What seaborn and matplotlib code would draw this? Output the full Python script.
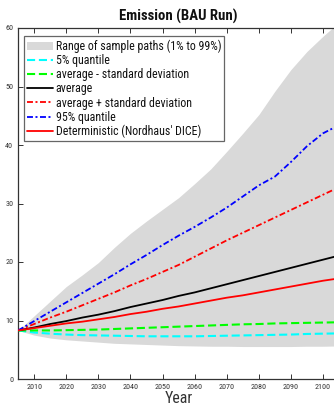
import numpy as np
import pandas as pd
import matplotlib
matplotlib.use("Agg")
import matplotlib.pyplot as plt
import seaborn as sns
from matplotlib.patches import Patch
from matplotlib.lines import Line2D

years = [2005, 2010, 2015, 2020, 2025, 2030, 2035, 2040, 2045, 2050, 2055,
         2060, 2065, 2070, 2075, 2080, 2085, 2090, 2095, 2100, 2105]
band_upper = [8.3, 10.8, 13.3, 15.8, 17.8, 19.9, 22.5, 24.9, 27.0, 29.0, 31.0,
              33.4, 35.9, 38.9, 42.0, 45.2, 49.2, 52.9, 56.0, 58.6, 61.0]
band_lower = [8.3, 7.5, 7.0, 6.7, 6.5, 6.3, 6.1, 6.0, 5.9, 5.8, 5.7,
              5.65, 5.6, 5.6, 5.55, 5.55, 5.55, 5.55, 5.6, 5.6, 5.65]
q05 = [8.3, 7.95, 7.75, 7.6, 7.5, 7.45, 7.4, 7.35, 7.3, 7.3, 7.3,
       7.3, 7.35, 7.4, 7.45, 7.5, 7.55, 7.6, 7.7, 7.75, 7.8]
avg_minus_sd = [8.3, 8.3, 8.3, 8.35, 8.4, 8.45, 8.55, 8.65, 8.75, 8.85, 8.95,
                9.05, 9.15, 9.25, 9.35, 9.4, 9.5, 9.55, 9.6, 9.65, 9.7]
average = [8.3, 8.8, 9.4, 9.9, 10.5, 11.0, 11.6, 12.3, 12.9, 13.5, 14.2,
           14.8, 15.5, 16.2, 16.9, 17.6, 18.3, 19.0, 19.7, 20.4, 21.1]
avg_plus_sd = [8.3, 9.4, 10.5, 11.5, 12.6, 13.7, 14.8, 16.0, 17.1, 18.3, 19.5,
               20.9, 22.3, 23.7, 25.0, 26.3, 27.6, 28.9, 30.2, 31.5, 32.8]
q95 = [8.3, 9.9, 11.5, 13.1, 14.7, 16.3, 17.9, 19.6, 21.2, 22.9, 24.5,
       26.0, 27.6, 29.3, 31.2, 33.1, 34.6, 37.1, 39.8, 42.0, 43.4]
deterministic = [8.3, 8.7, 9.1, 9.5, 9.8, 10.2, 10.6, 11.1, 11.5, 12.0, 12.4,
                 12.9, 13.4, 13.9, 14.3, 14.8, 15.3, 15.8, 16.3, 16.8, 17.2]

labels = ["Range of sample paths (1% to 99%)", "5% quantile",
          "average - standard deviation", "average",
          "average + standard deviation", "95% quantile",
          "Deterministic (Nordhaus' DICE)"]
title = "Emission (BAU Run)"
xlabel = "Year"
xticks = [2010, 2020, 2030, 2040, 2050, 2060, 2070, 2080, 2090, 2100]
yticks = [0, 10, 20, 30, 40, 50, 60]

sns.set_style("ticks")
FAM = ['Roboto Condensed', 'DejaVu Sans']
plt.rcParams['font.family'] = FAM

fig = plt.figure(figsize=(3.34, 4.07), dpi=100)
W, H = 334, 407
renderer = fig.canvas.get_renderer()


def fit_size(s, target_px, weight="normal", base=10.0):
    t = fig.text(0, 0, s, fontsize=base, fontweight=weight, family=FAM)
    w = t.get_window_extent(renderer).width
    t.remove()
    return base * target_px / w


leg_fs = fit_size(labels[0], 164)
title_fs = fit_size(title, 118, weight="bold")
tick_fs = fit_size("2050", 16)
xl_fs = fit_size(xlabel, 28)

ax = fig.add_axes([18.1 / W, 28 / H, 321 / W, 351 / H])

ax.fill_between(years, band_lower, band_upper, color="#d9d9d9", lw=0, zorder=1)

df = pd.DataFrame({"year": years, "q05": q05, "ams": avg_minus_sd, "avg": average,
                   "aps": avg_plus_sd, "q95": q95, "det": deterministic})

dash = (3.9, 1.8)
dashdot = (3.3, 1.4, 1.1, 1.4)
specs = [("q05", "#00ffff", dash, 1.5),
         ("ams", "#00ff00", dash, 1.5),
         ("avg", "#000000", None, 1.3),
         ("aps", "#ff0000", dashdot, 1.3),
         ("q95", "#0000ff", dashdot, 1.3),
         ("det", "#ff0000", None, 1.3)]
handles = [Patch(facecolor="#d9d9d9", edgecolor="none")]
for col, color, ds, lw in specs:
    sns.lineplot(data=df, x="year", y=col, ax=ax, color=color, lw=lw, zorder=3)
    l = ax.lines[-1]
    if ds is not None:
        l.set_dashes(ds)
    h = Line2D([], [], color=color, lw=lw)
    if ds is not None:
        h.set_dashes(ds)
    handles.append(h)

ax.set_xlim(2005, 2105)
ax.set_ylim(0, 60)
ax.set_xticks(xticks)
ax.set_yticks(yticks)
ax.tick_params(direction="in", length=3.5, width=0.7, colors="#333333",
               labelsize=tick_fs, top=True, right=True, pad=3.5)
for s in ax.spines.values():
    s.set_visible(True)
    s.set_color("#333333")
    s.set_linewidth(0.9)
ax.set_xlabel(xlabel, fontsize=xl_fs, labelpad=0.6, color="#333333")
ax.set_ylabel("")
ax.set_title(title, fontsize=title_fs, fontweight="bold", pad=5, color="#111111")

leg = ax.legend(handles, labels, loc="upper left", bbox_to_anchor=(0.019, 0.976),
                fontsize=leg_fs, frameon=True, fancybox=False, handlelength=2.2,
                handletextpad=0.2, borderpad=0.25, labelspacing=0.1,
                borderaxespad=0, framealpha=1)
leg.get_frame().set_edgecolor("#666666")
leg.get_frame().set_linewidth(0.9)
for t in leg.get_texts():
    t.set_color("#111111")

fig.savefig("out.png", dpi=100)
